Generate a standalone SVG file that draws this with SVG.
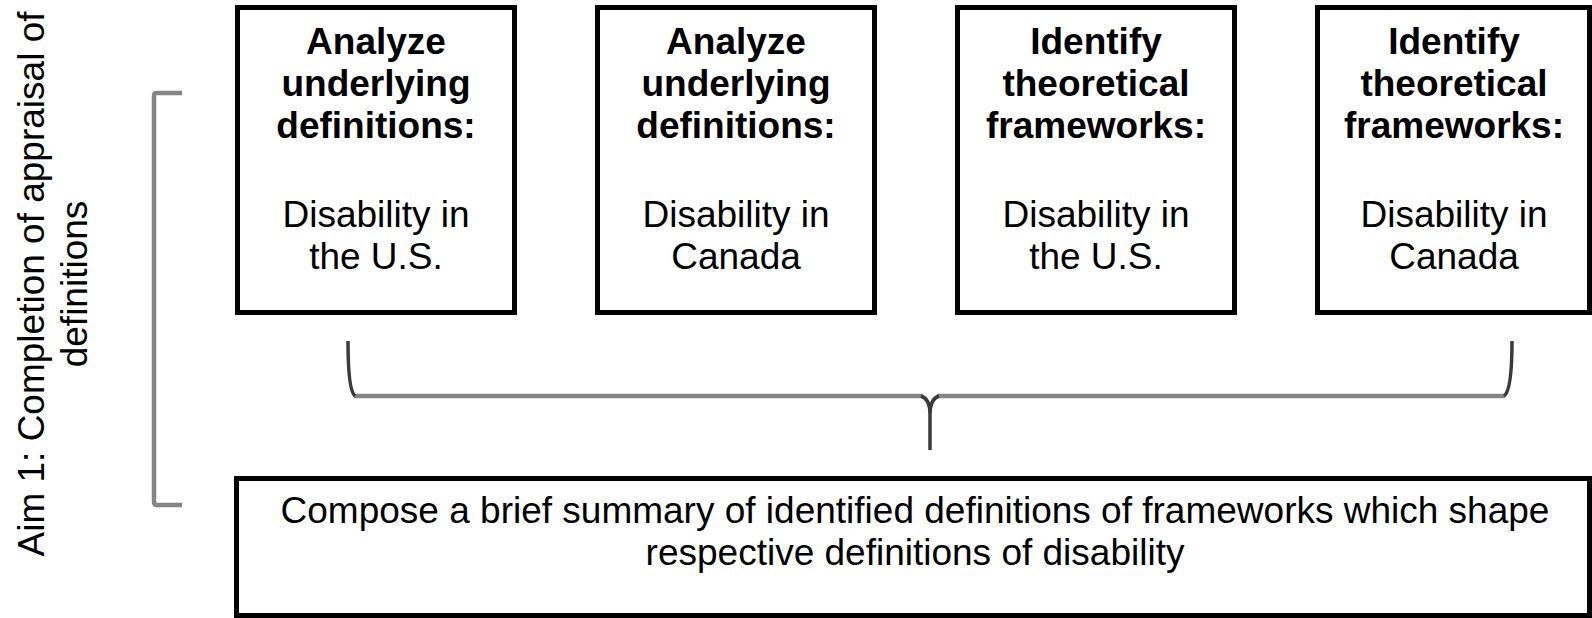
<svg xmlns="http://www.w3.org/2000/svg" width="1592" height="618" viewBox="0 0 1592 618">
  <style>
    .box { fill: #ffffff; stroke: #000000; stroke-width: 5; }
    .t { font-family: "Liberation Sans", Arial, Helvetica, sans-serif; font-size: 37px; fill: #000000; text-anchor: middle; }
    .b { font-weight: bold; }
    .grey { fill: none; stroke: #868686; stroke-width: 4.5; stroke-linecap: butt; stroke-linejoin: round; }
    .dark { fill: none; stroke: #3a3a3a; stroke-width: 3.5; stroke-linecap: butt; }
  </style>
  <rect width="1592" height="618" fill="#ffffff"/>

  <!-- Side label -->
  <g id="aim-label">
    <text class="t" transform="rotate(-90)" x="-284" y="44">Aim 1: Completion of appraisal of</text>
    <text class="t" transform="rotate(-90)" x="-284" y="87">definitions</text>
  </g>

  <!-- Top row of task boxes -->
  <g id="box-us-definitions">
    <rect class="box" x="237.5" y="7.5" width="277" height="305"/>
    <text class="t b" x="376"><tspan x="376" y="54">Analyze</tspan><tspan x="376" y="96">underlying</tspan><tspan x="376" y="138">definitions:</tspan></text>
    <text class="t" x="376"><tspan x="376" y="227">Disability in</tspan><tspan x="376" y="269">the U.S.</tspan></text>
  </g>
  <g id="box-canada-definitions">
    <rect class="box" x="597.5" y="7.5" width="277" height="305"/>
    <text class="t b" x="736"><tspan x="736" y="54">Analyze</tspan><tspan x="736" y="96">underlying</tspan><tspan x="736" y="138">definitions:</tspan></text>
    <text class="t" x="736"><tspan x="736" y="227">Disability in</tspan><tspan x="736" y="269">Canada</tspan></text>
  </g>
  <g id="box-us-frameworks">
    <rect class="box" x="957.5" y="7.5" width="277" height="305"/>
    <text class="t b" x="1096"><tspan x="1096" y="54">Identify</tspan><tspan x="1096" y="96">theoretical</tspan><tspan x="1096" y="138">frameworks:</tspan></text>
    <text class="t" x="1096"><tspan x="1096" y="227">Disability in</tspan><tspan x="1096" y="269">the U.S.</tspan></text>
  </g>
  <g id="box-canada-frameworks">
    <rect class="box" x="1317.5" y="7.5" width="272" height="305"/>
    <text class="t b" x="1454"><tspan x="1454" y="54">Identify</tspan><tspan x="1454" y="96">theoretical</tspan><tspan x="1454" y="138">frameworks:</tspan></text>
    <text class="t" x="1454"><tspan x="1454" y="227">Disability in</tspan><tspan x="1454" y="269">Canada</tspan></text>
  </g>

  <!-- Summary box -->
  <g id="box-summary">
    <rect class="box" x="236.5" y="478.5" width="1353" height="137"/>
    <text class="t"><tspan x="915" y="523">Compose a brief summary of identified definitions of frameworks which shape</tspan><tspan x="915" y="565">respective definitions of disability</tspan></text>
  </g>

  <!-- Brackets -->
  <g id="connectors">
    <path class="grey" d="M182,93 L157,93 Q154,93 154,96 L154,502 Q154,505 157,505 L182,505"/>
    <path class="grey" d="M354,396 L923,396 M937,396 L1505,396"/>
    <path class="dark" d="M348,341 C348,372 350,392 355,396"/>
    <path class="dark" d="M1512,341 C1512,372 1510,392 1504,396"/>
    <path class="dark" d="M921,396 C927,398 930,404 930,414 L930,450 M930,414 C930,404 933,398 939,396"/>
  </g>
</svg>
